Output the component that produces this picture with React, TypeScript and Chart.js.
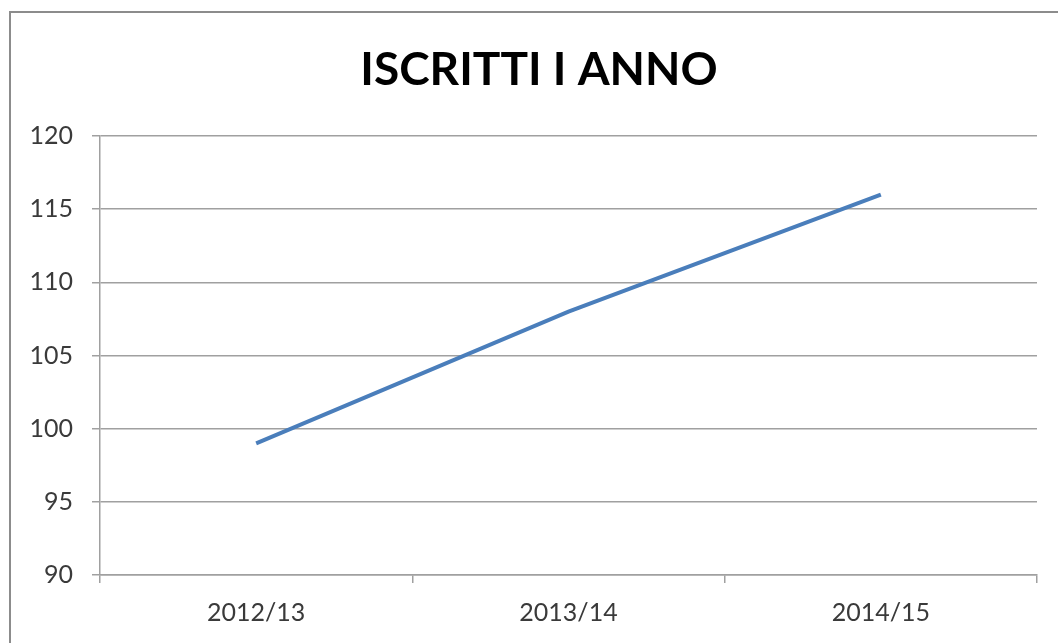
import React, { useEffect, useRef } from "react";
import { Chart, registerables } from "chart.js";

Chart.register(...registerables);

const categories = ["2012/13", "2013/14", "2014/15"];
const iscritti = [99, 108, 116];
const yTicks = [90, 95, 100, 105, 110, 115, 120];
const titleText = "ISCRITTI I ANNO";

const FONT = "Lato, 'Open Sans', sans-serif";

export default function App() {
  const ref = useRef<HTMLCanvasElement | null>(null);
  useEffect(() => {
    if (!ref.current) return;
    const framePlugin = {
      id: "frame",
      beforeDraw(chart: any) {
        const ctx = chart.ctx;
        ctx.save();
        ctx.fillStyle = "#ffffff";
        ctx.fillRect(0, 0, chart.width, chart.height);
        ctx.strokeStyle = "#8c8c8c";
        ctx.lineWidth = 2;
        ctx.strokeRect(10, 12, chart.width + 50, chart.height + 50);
        ctx.restore();
      },
      afterDraw(chart: any) {
        const ctx = chart.ctx;
        ctx.save();
        ctx.fillStyle = "#000000";
        ctx.font = `bold 46px ${FONT}`;
        ctx.textAlign = "center";
        ctx.textBaseline = "middle";
        ctx.fillText(titleText, 539, 70.6);
        ctx.restore();
      },
    };
    const chart = new Chart(ref.current, {
      type: "line",
      data: {
        labels: categories,
        datasets: [
          {
            label: "Iscritti I anno",
            data: iscritti,
            borderColor: "#4a7ebb",
            borderWidth: 4,
            pointRadius: 0,
            tension: 0,
            fill: false,
          },
        ],
      },
      options: {
        animation: false,
        responsive: false,
        layout: { padding: { left: 0, right: 21, top: 136, bottom: 0 } },
        plugins: {
          legend: { display: false },
          tooltip: { enabled: false },
          title: { display: false },
        },
        scales: {
          x: {
            type: "category",
            offset: true,
            grid: {
              offset: true,
              drawOnChartArea: false,
              drawTicks: true,
              tickLength: 8,
              color: "#a0a0a0",
              lineWidth: 1.5,
            },
            border: { display: true, color: "#a0a0a0", width: 1.5 },
            ticks: {
              color: "#3a3a3a",
              font: { family: FONT, size: 25 },
              padding: 15,
            },
            afterFit(scale: any) {
              scale.height = 68;
            },
          },
          y: {
            min: 90,
            max: 120,
            afterBuildTicks(scale: any) {
              scale.ticks = yTicks.map((v) => ({ value: v }));
            },
            grid: {
              color: "#a0a0a0",
              lineWidth: 1.5,
              tickLength: 8,
            },
            border: { display: true, color: "#a0a0a0", width: 1.5 },
            ticks: {
              color: "#3a3a3a",
              font: { family: FONT, size: 25 },
              padding: 19,
            },
            afterFit(scale: any) {
              scale.width = 100;
            },
          },
        },
      },
      plugins: [framePlugin],
    });
    return () => chart.destroy();
  }, []);
  return (
    <div style={{ position: "absolute", left: 0, top: 0, width: 1058, height: 643 }}>
      <canvas ref={ref} width={1058} height={643} />
    </div>
  );
}
